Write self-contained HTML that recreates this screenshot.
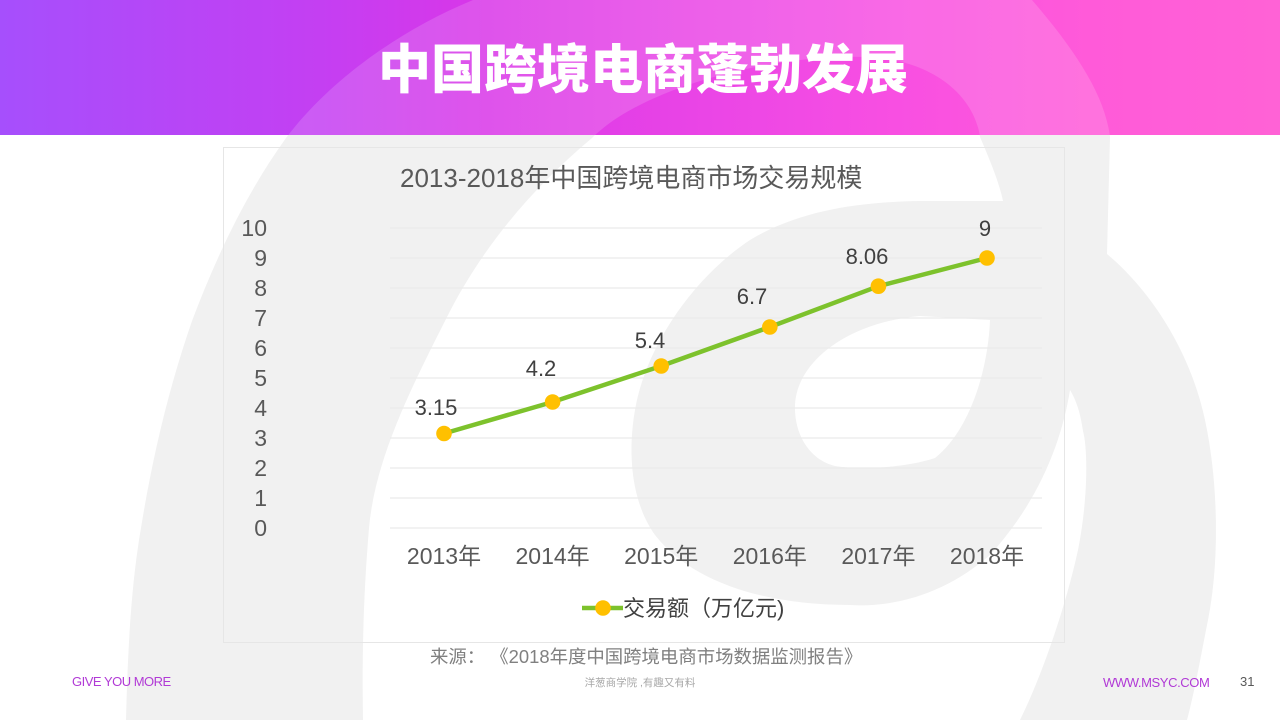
<!DOCTYPE html>
<html lang="zh-CN">
<head>
<meta charset="utf-8">
<style>
  html, body { margin: 0; padding: 0; background: #ffffff; }
  .slide { position: relative; width: 1280px; height: 720px; overflow: hidden; background: #ffffff; }
  .abs { position: absolute; left: 0; top: 0; }
  .header { position: absolute; left: 0; top: 0; width: 1280px; height: 135px;
    background: linear-gradient(90deg, #a64ffc 0%, #c43ff2 25%, #d936e8 38%, #ea45e6 55%, #f84fe2 70%, #ff5ad9 85%, #ff62d6 100%); overflow: hidden; }
</style>
</head>
<body>
<div class="slide">
  <!-- background swirl -->
  <svg class="abs" width="1280" height="720" viewBox="0 0 1280 720">
    <path fill="#f1f1f1" d="M126,740 L126,720 C128,640 132,580 141,528 C152,460 168,390 192,321 C215,260 245,195 286,138 C330,80 400,30 473,0 C600,-90 950,-90 1032,0 C1075,50 1105,95 1110,137 L1107,254 C1150,290 1190,350 1205,420 C1218,480 1220,560 1208,620 C1200,660 1195,690 1187,720 L1187,740 L1020,740 L1020,720 C1040,680 1065,610 1078,550 C1088,500 1088,450 1083,431 C1080,410 1075,398 1070,390 C1062,440 1040,500 990,555 C950,590 900,608 850,605 C760,605 690,580 655,535 C630,500 628,450 635,410 C645,350 690,280 750,240 C800,210 860,202 920,201 L1003,201 C1000,185 990,160 980,137 C975,100 940,65 880,58 C800,50 650,80 592,138 C530,190 480,250 445,321 C410,390 375,460 369,528 C363,600 362,660 363,720 L363,740 Z"/>
    <path fill="#ffffff" d="M795,405 C797,360 850,322 920,316 L990,320 C988,370 970,430 935,458 C905,468 860,470 835,466 C810,460 794,435 795,405 Z"/>
  </svg>

  <!-- header -->
  <div class="header">
    <svg class="abs" width="1280" height="135" viewBox="0 0 1280 135">
      <path fill="#ffffff" fill-opacity="0.15" d="M126,740 L126,720 C128,640 132,580 141,528 C152,460 168,390 192,321 C215,260 245,195 286,138 C330,80 400,30 473,0 C600,-90 950,-90 1032,0 C1075,50 1105,95 1110,137 L1107,254 L1003,201 C1000,185 990,160 980,137 C975,100 940,65 880,58 C800,50 650,80 592,138 C530,190 480,250 445,321 C410,390 375,460 369,528 C363,600 362,660 363,720 L363,740 Z"/>
      <text x="643" y="88" text-anchor="middle" fill="#ffffff" font-family="'Noto Sans CJK SC', 'WenQuanYi Zen Hei', sans-serif" font-weight="900" font-size="53">中国跨境电商蓬勃发展</text>
    </svg>
  </div>

  <!-- chart -->
  <svg class="abs" width="1280" height="720" viewBox="0 0 1280 720" font-family="'Liberation Sans', 'Noto Sans CJK SC', sans-serif">
    <rect x="223.5" y="147.5" width="841" height="495" fill="none" stroke="#e6e6e6" stroke-width="1"/>
    <text x="400" y="187" fill="#595959" font-size="26">2013-2018年中国跨境电商市场交易规模</text>

    <g stroke="#ebebeb" stroke-width="1.2">
      <line x1="390" y1="228" x2="1042" y2="228"/>
      <line x1="390" y1="258" x2="1042" y2="258"/>
      <line x1="390" y1="288" x2="1042" y2="288"/>
      <line x1="390" y1="318" x2="1042" y2="318"/>
      <line x1="390" y1="348" x2="1042" y2="348"/>
      <line x1="390" y1="378" x2="1042" y2="378"/>
      <line x1="390" y1="408" x2="1042" y2="408"/>
      <line x1="390" y1="438" x2="1042" y2="438"/>
      <line x1="390" y1="468" x2="1042" y2="468"/>
      <line x1="390" y1="498" x2="1042" y2="498"/>
      <line x1="390" y1="528" x2="1042" y2="528"/>
    </g>

    <g fill="#595959" font-size="23" text-anchor="end">
      <text x="267" y="236">10</text>
      <text x="267" y="266">9</text>
      <text x="267" y="296">8</text>
      <text x="267" y="326">7</text>
      <text x="267" y="356">6</text>
      <text x="267" y="386">5</text>
      <text x="267" y="416">4</text>
      <text x="267" y="446">3</text>
      <text x="267" y="476">2</text>
      <text x="267" y="506">1</text>
      <text x="267" y="536">0</text>
    </g>

    <g fill="#595959" font-size="23" text-anchor="middle">
      <text x="444" y="564">2013年</text>
      <text x="552.6" y="564">2014年</text>
      <text x="661.2" y="564">2015年</text>
      <text x="769.8" y="564">2016年</text>
      <text x="878.4" y="564">2017年</text>
      <text x="987" y="564">2018年</text>
    </g>

    <polyline fill="none" stroke="#7dc22c" stroke-width="4.5" stroke-linejoin="round" stroke-linecap="round"
      points="444,433.5 552.6,402 661.2,366 769.8,327 878.4,286.2 987,258"/>
    <g fill="#ffc000">
      <circle cx="444" cy="433.5" r="7.8"/>
      <circle cx="552.6" cy="402" r="7.8"/>
      <circle cx="661.2" cy="366" r="7.8"/>
      <circle cx="769.8" cy="327" r="7.8"/>
      <circle cx="878.4" cy="286.2" r="7.8"/>
      <circle cx="987" cy="258" r="7.8"/>
    </g>

    <g fill="#404040" font-size="22" text-anchor="middle">
      <text x="436" y="415">3.15</text>
      <text x="541" y="376">4.2</text>
      <text x="650" y="348">5.4</text>
      <text x="752" y="304">6.7</text>
      <text x="867" y="264">8.06</text>
      <text x="985" y="236">9</text>
    </g>

    <line x1="582" y1="608" x2="623" y2="608" stroke="#7dc22c" stroke-width="4.5"/>
    <circle cx="603" cy="608" r="7.8" fill="#ffc000"/>
    <text x="623" y="616" fill="#404040" font-size="22">交易额（万亿元)</text>

    <text x="430" y="663" fill="#808080" font-size="18.4" xml:space="preserve">来源： 《2018年度中国跨境电商市场数据监测报告》</text>

    <text x="72" y="686" fill="#b13ad6" font-size="13" letter-spacing="-0.5">GIVE YOU MORE</text>
    <text x="640" y="686" text-anchor="middle" fill="#a8a8a8" font-size="10.5">洋葱商学院 ,有趣又有料</text>
    <text x="1103" y="687" fill="#b13ad6" font-size="13" letter-spacing="-0.4">WWW.MSYC.COM</text>
    <text x="1240" y="686" fill="#595959" font-size="13">31</text>
  </svg>
</div>
</body>
</html>
